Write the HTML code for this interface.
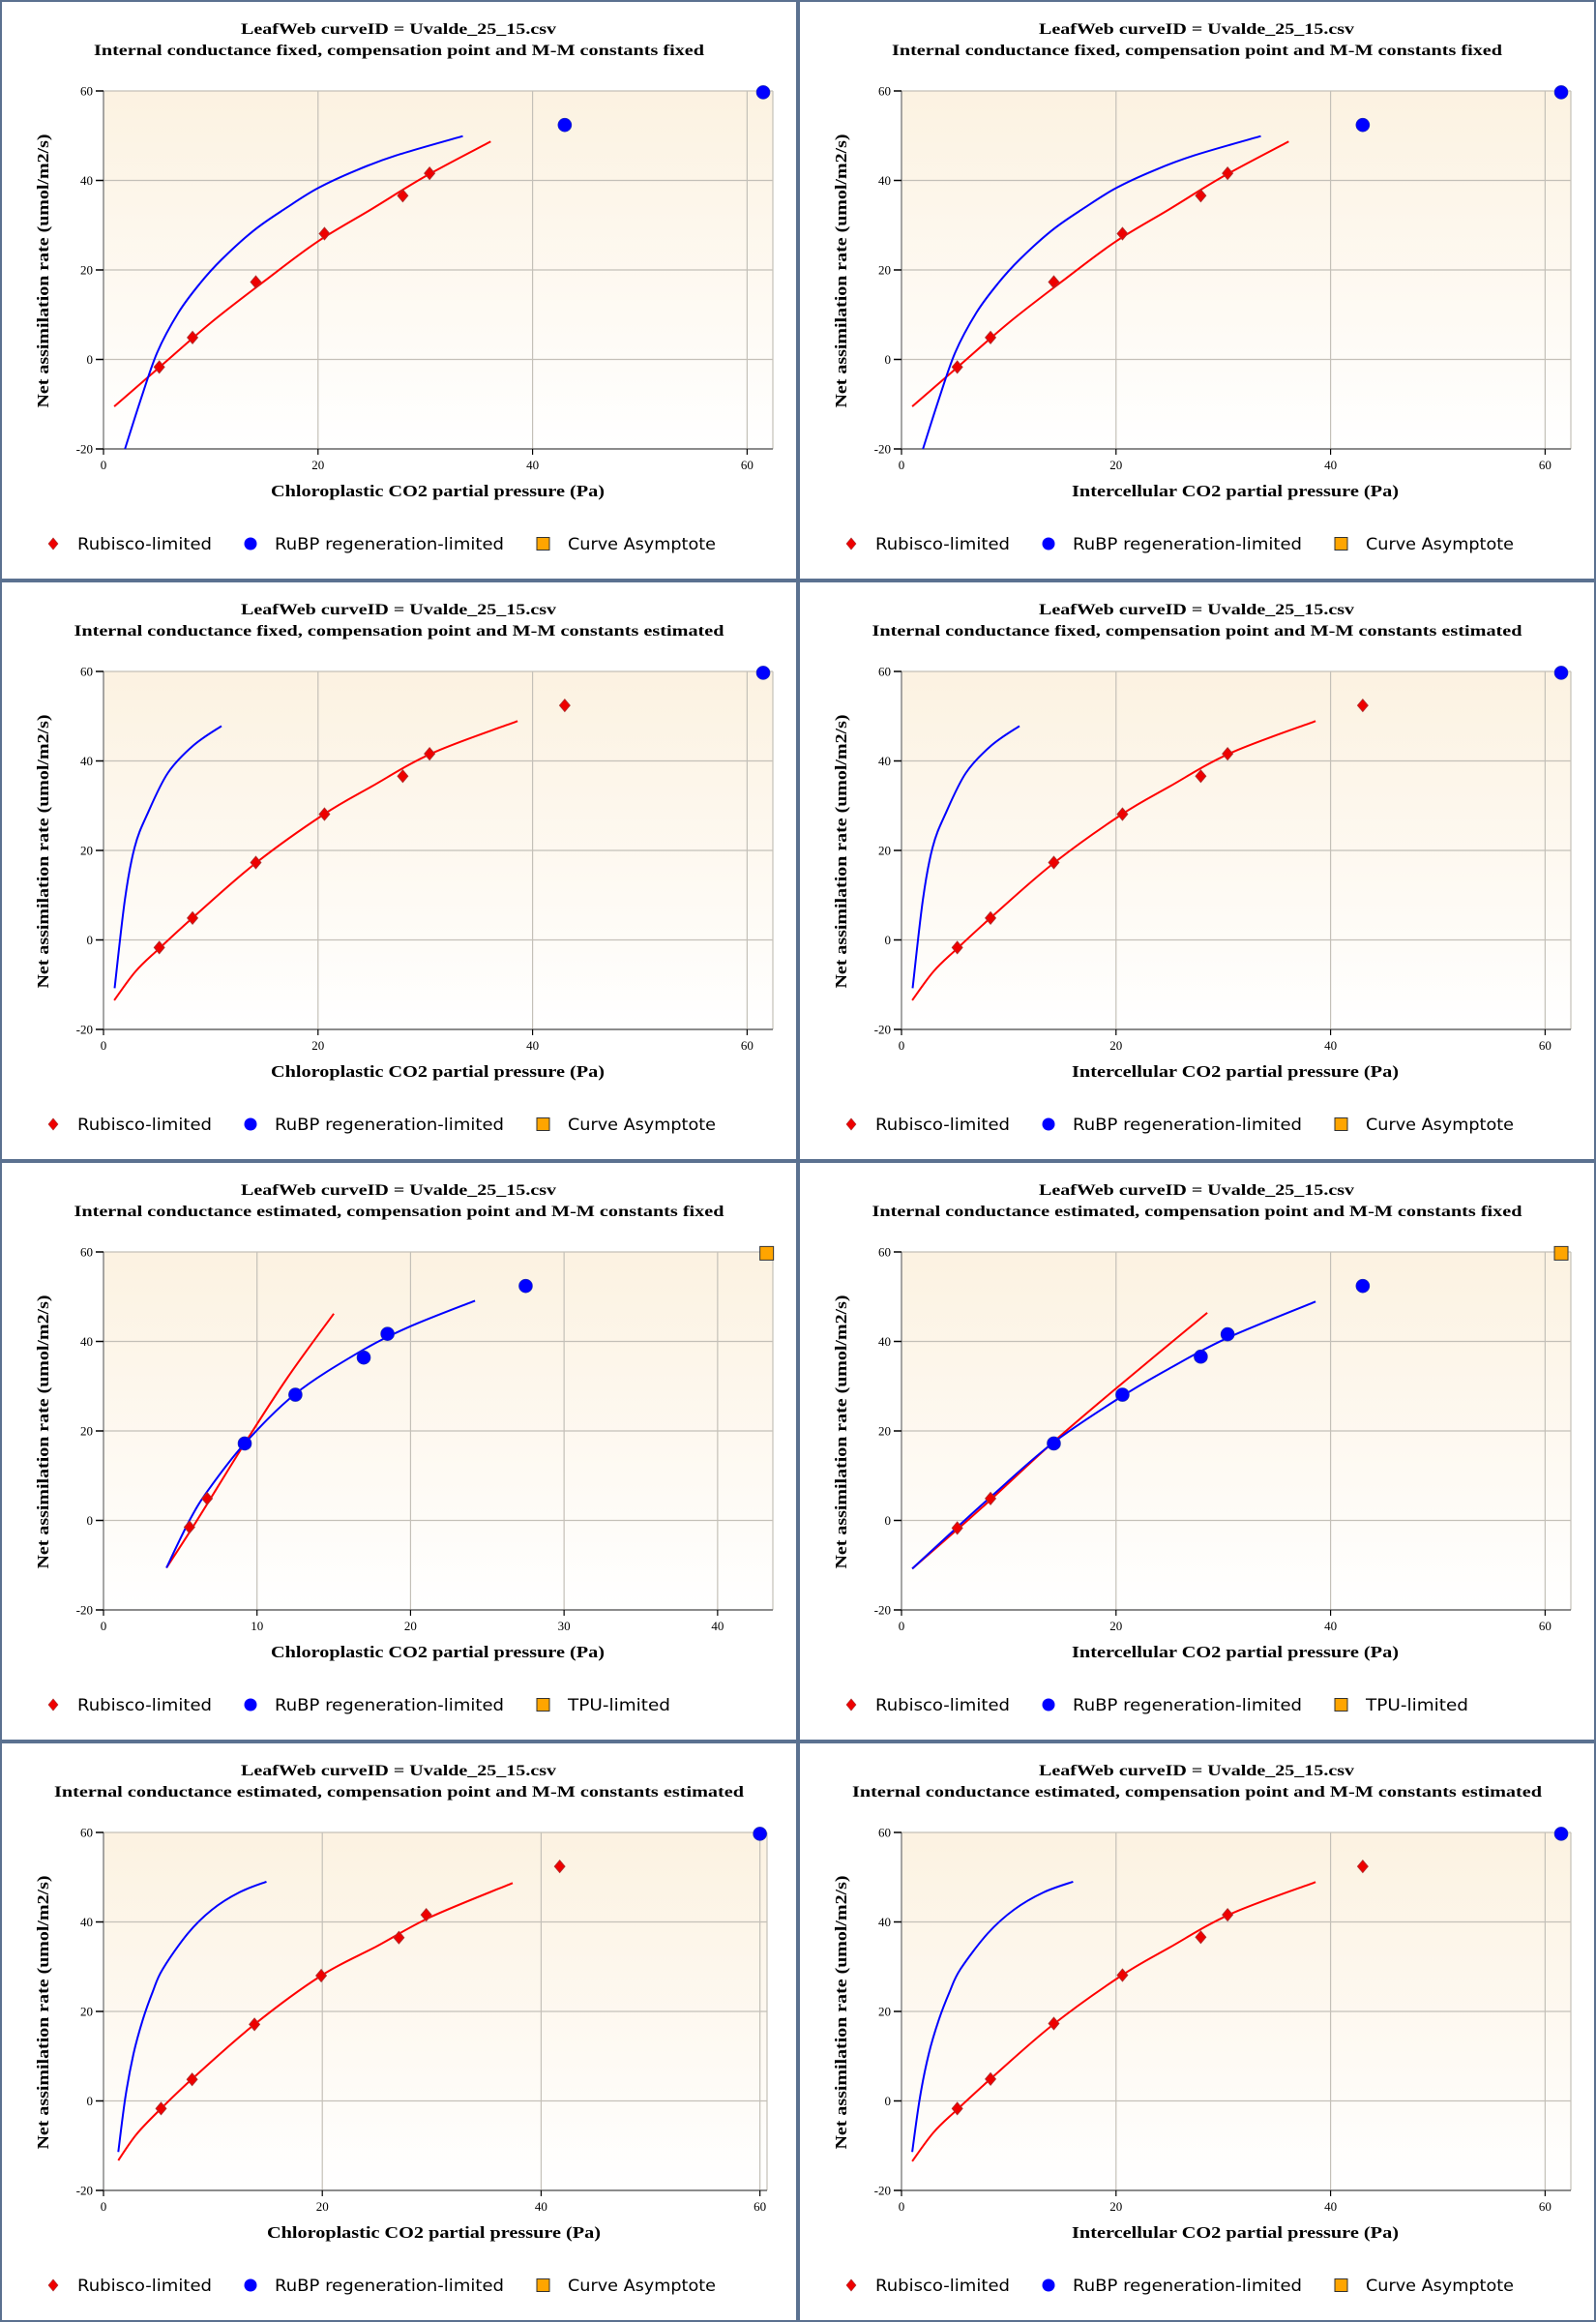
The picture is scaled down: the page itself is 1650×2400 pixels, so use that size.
<!DOCTYPE html>
<html><head><meta charset="utf-8">
<style>
html,body{margin:0;padding:0;background:#fff;}
#wrap{position:relative;width:1650px;height:2400px;background:#5b7190;}
.p{position:absolute;background:#fff;}
svg{display:block;}
</style></head>
<body><div id="wrap"></div>
<script>
(function(){
var NS="http://www.w3.org/2000/svg";
var redPts1=[[5.2,-1.7],[8.3,4.9],[14.2,17.3],[20.6,28.1],[27.9,36.6],[30.4,41.6]];
var P1={xmax:62.4,xt:[0,20,40,60],
 title2:"Internal conductance fixed, compensation point and M-M constants fixed",t2w:631,
 red:redPts1,blue:[[43,52.4],[61.5,59.7]],orange:[],
 redC:[[1,-10.5],[5,-2.2],[10,8.2],[15,17.5],[20,26.4],[25,33.6],[30,40.9],[36.1,48.7]],
 blueC:[[2,-20],[3.4,-9.5],[5,1.5],[7,10.5],[9,17],[11,22.3],[14,28.8],[17,33.8],[20,38.3],[23.6,42.3],[27.3,45.6],[33.5,49.9]],
 leg3:"Curve Asymptote"};
var redC2=[[1,-13.5],[3,-7],[5.2,-1.9],[8.3,4.9],[14.1,17],[20.5,28],[25,34.3],[30.7,41.8],[38.6,48.9]];
var P2={xmax:62.4,xt:[0,20,40,60],
 title2:"Internal conductance fixed, compensation point and M-M constants estimated",t2w:672,
 red:redPts1.concat([[43,52.4]]),blue:[[61.5,59.7]],orange:[],
 redC:redC2,
 blueC:[[1.04,-10.8],[2.0,9.1],[2.9,20.7],[4.1,28.2],[6.0,37.3],[8.4,43.5],[11.0,47.8]],
 leg3:"Curve Asymptote"};
var P3L={xmax:43.6,xt:[0,10,20,30,40],
 title2:"Internal conductance estimated, compensation point and M-M constants fixed",t2w:672,
 red:[[5.6,-1.5],[6.75,4.9]],blue:[[9.2,17.2],[12.5,28.1],[16.95,36.4],[18.5,41.7],[27.5,52.4]],orange:[[43.2,59.7]],
 redC:[[4.1,-10.6],[6,-0.5],[9.2,17.2],[12,32],[15,46.2]],
 blueC:[[4.1,-10.6],[5.6,0],[6.85,6.9],[9.2,17.2],[12.5,28.3],[16.5,37.3],[19.8,43.1],[24.2,49.1]],
 leg3:"TPU-limited"};
var P3R={xmax:62.4,xt:[0,20,40,60],
 title2:P3L.title2,t2w:672,
 red:[[5.2,-1.7],[8.3,4.9]],blue:[[14.2,17.2],[20.6,28.1],[27.9,36.6],[30.4,41.6],[43,52.4]],orange:[[61.5,59.7]],
 redC:[[1,-10.8],[5.2,-2],[8.3,4.6],[14.1,17.4],[20,29.5],[28.5,46.4]],
 blueC:[[1,-10.8],[5.2,-1.5],[8.3,5.2],[14.1,17.3],[20.6,27.8],[25,34],[30.4,40.8],[38.6,48.9]],
 leg3:"TPU-limited"};
var b4=[[1.35,-11.4],[2.0,0.8],[2.74,10.5],[3.6,18.2],[4.5,24.4],[5.4,29.4],[7.7,37.4],[9.9,42.7],[12.4,46.6],[14.9,49.0]];
var P4L={xmax:60.65,xt:[0,20,40,60],
 title2:"Internal conductance estimated, compensation point and M-M constants estimated",t2w:713,
 red:[[5.26,-1.7],[8.1,4.8],[13.8,17.1],[19.9,28],[27,36.5],[29.5,41.6],[41.7,52.4]],blue:[[60,59.7]],orange:[],
 redC:[[1.35,-13.3],[3,-7.5],[5.26,-1.7],[8.1,4.9],[13.8,17.1],[19.9,28],[25,34.6],[30,41.2],[37.4,48.7]],
 blueC:b4,leg3:"Curve Asymptote"};
var P4R={xmax:62.4,xt:[0,20,40,60],
 title2:P4L.title2,t2w:713,
 red:redPts1.concat([[43,52.4]]),blue:[[61.5,59.7]],orange:[],
 redC:redC2,
 blueC:b4.map(function(p){return [1+(p[0]-1.35)*15/13.55,p[1]];}),
 leg3:"Curve Asymptote"};
var panels=[[P1,P1],[P2,P2],[P3L,P3R],[P4L,P4R]];

function el(n,a,p,t){var e=document.createElementNS(NS,n);for(var k in a)e.setAttribute(k,a[k]);if(t!=null)e.textContent=t;if(p)p.appendChild(e);return e;}
function path(pts){
 var d="M"+pts[0][0].toFixed(1)+","+pts[0][1].toFixed(1);
 for(var i=0;i<pts.length-1;i++){var p0=pts[Math.max(0,i-1)],p1=pts[i],p2=pts[i+1],p3=pts[Math.min(pts.length-1,i+2)];
  var c1=[p1[0]+(p2[0]-p0[0])/6,p1[1]+(p2[1]-p0[1])/6],c2=[p2[0]-(p3[0]-p1[0])/6,p2[1]-(p3[1]-p1[1])/6];
  d+="C"+c1[0].toFixed(1)+","+c1[1].toFixed(1)+" "+c2[0].toFixed(1)+","+c2[1].toFixed(1)+" "+p2[0].toFixed(1)+","+p2[1].toFixed(1);}
 return d;}
var wrap=document.getElementById('wrap');
var gid=0;
for(var r=0;r<4;r++)for(var c=0;c<2;c++){
 var P=panels[r][c];
 var pl=c==0?2:827, pt=r*600+2, w=821, h=596;
 var div=document.createElement('div');div.className='p';
 div.style.left=pl+'px';div.style.top=pt+'px';div.style.width=w+'px';div.style.height=h+'px';
 wrap.appendChild(div);
 var s=el('svg',{width:w,height:h,viewBox:"2 2 "+w+" "+h},div);
 var L=107,R=(P===P4L)?793:799,T=94,B=464;
 var X=(function(L,R,xm){return function(v){return L+(R-L)*v/xm;};})(L,R,P.xmax);
 var Y=function(v){return T+(B-T)*(60-v)/80;};
 gid++;
 var defs=el('defs',{},s);var lg=el('linearGradient',{id:'g'+gid,x1:0,y1:0,x2:0,y2:1},defs);
 el('stop',{offset:'0','stop-color':'#fcf2e1'},lg);el('stop',{offset:'1','stop-color':'#ffffff'},lg);
 el('rect',{x:L,y:T,width:R-L,height:B-T,fill:'url(#g'+gid+')'},s);
 [60,40,20,0].forEach(function(v){el('line',{x1:L,x2:R,y1:Y(v),y2:Y(v),stroke:'#c4c0b8','stroke-width':1.2},s);});
 P.xt.forEach(function(v){if(v>0)el('line',{x1:X(v),x2:X(v),y1:T,y2:B,stroke:'#c4c0b8','stroke-width':1.2},s);});
 el('line',{x1:R,x2:R,y1:T,y2:B,stroke:'#c4c0b8','stroke-width':1.2},s);
 el('line',{x1:L,x2:L,y1:T,y2:B,stroke:'#888','stroke-width':1.5},s);
 el('line',{x1:L,x2:R,y1:B,y2:B,stroke:'#666','stroke-width':1.5},s);
 [60,40,20,0,-20].forEach(function(v){el('line',{x1:L-8,x2:L,y1:Y(v),y2:Y(v),stroke:'#000','stroke-width':1.5},s);
  el('text',{x:L-11,y:Y(v)+4.5,'text-anchor':'end','font-family':'Liberation Serif, serif','font-size':13},s,String(v));});
 P.xt.forEach(function(v){el('line',{x1:X(v),x2:X(v),y1:B,y2:B+6,stroke:'#000','stroke-width':1.2},s);
  el('text',{x:X(v),y:B+21,'text-anchor':'middle','font-family':'Liberation Serif, serif','font-size':13},s,String(v));});
 el('path',{d:path(P.redC.map(function(p){return [X(p[0]),Y(p[1])];})),fill:'none',stroke:'#ff0000','stroke-width':2},s);
 el('path',{d:path(P.blueC.map(function(p){return [X(p[0]),Y(p[1])];})),fill:'none',stroke:'#0000ff','stroke-width':2},s);
 P.red.forEach(function(p){var x=X(p[0]),y=Y(p[1]);el('path',{d:'M'+x+','+(y-6.5)+'L'+(x+5.5)+','+y+'L'+x+','+(y+6.5)+'L'+(x-5.5)+','+y+'Z',fill:'#ee0000',stroke:'#a33','stroke-width':0.8},s);});
 P.blue.forEach(function(p){el('ellipse',{cx:X(p[0]),cy:Y(p[1]),rx:7,ry:7,fill:'#0000ff',stroke:'#2233aa','stroke-width':0.6},s);});
 P.orange.forEach(function(p){el('rect',{x:X(p[0])-7,y:Y(p[1])-7,width:14,height:14,fill:'#ffa500',stroke:'#333','stroke-width':1},s);});
 var TF='Liberation Serif, serif';
 el('text',{x:412,y:35,'text-anchor':'middle','font-family':TF,'font-weight':'bold','font-size':16,textLength:326,lengthAdjust:'spacingAndGlyphs'},s,'LeafWeb curveID = Uvalde_25_15.csv');
 el('text',{x:412.5,y:57,'text-anchor':'middle','font-family':TF,'font-weight':'bold','font-size':16,textLength:P.t2w,lengthAdjust:'spacingAndGlyphs'},s,P.title2);
 var xl=c==0?'Chloroplastic CO2 partial pressure (Pa)':'Intercellular CO2 partial pressure (Pa)';
 var xr=c==0?(P===P4L?[276,621]:[280,625]):[283,621];
 el('text',{x:(xr[0]+xr[1])/2,y:513,'text-anchor':'middle','font-family':TF,'font-weight':'bold','font-size':17,textLength:xr[1]-xr[0],lengthAdjust:'spacingAndGlyphs'},s,xl);
 el('text',{x:0,y:0,transform:'translate(50,280) rotate(-90)','text-anchor':'middle','font-family':TF,'font-weight':'bold','font-size':17,textLength:283,lengthAdjust:'spacingAndGlyphs'},s,'Net assimilation rate (umol/m2/s)');
 var LF='DejaVu Sans, Liberation Sans, sans-serif';
 el('path',{d:'M55,556L60,562L55,568L50,562Z',fill:'#ee0000',stroke:'#a33','stroke-width':0.6},s);
 el('text',{x:80,y:568,'font-family':LF,'font-size':17,textLength:139,lengthAdjust:'spacingAndGlyphs'},s,'Rubisco-limited');
 el('circle',{cx:259,cy:562,r:6.5,fill:'#0000ff'},s);
 el('text',{x:284,y:568,'font-family':LF,'font-size':17,textLength:237,lengthAdjust:'spacingAndGlyphs'},s,'RuBP regeneration-limited');
 el('rect',{x:555,y:555.5,width:13,height:13,fill:'#ffa500',stroke:'#333','stroke-width':1},s);
 el('text',{x:587,y:568,'font-family':LF,'font-size':17,textLength:P.leg3=='TPU-limited'?106:153,lengthAdjust:'spacingAndGlyphs'},s,P.leg3);
}
})();
</script>
</body></html>
